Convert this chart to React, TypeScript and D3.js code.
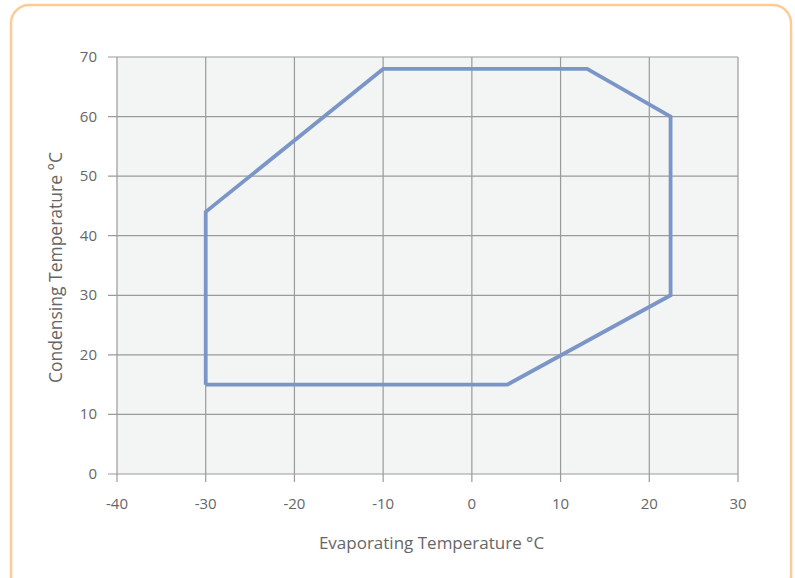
import React from "react";
import * as d3 from "d3";

const evapPoints: number[] = [-30, -30, -10, 13, 22.4, 22.4, 4, -30];
const condPoints: number[] = [15, 44, 68, 68, 60, 30, 15, 15];
const xTicks: number[] = [-40, -30, -20, -10, 0, 10, 20, 30];
const yTicks: number[] = [0, 10, 20, 30, 40, 50, 60, 70];

const W = 795;
const H = 578;
const left = 117;
const right = 738;
const top = 57;
const bottom = 474;

export default function App() {
  const x = d3.scaleLinear().domain([-40, 30]).range([left, right]);
  const y = d3.scaleLinear().domain([0, 70]).range([bottom, top]);
  const pts: [number, number][] = evapPoints.map((e, i) => [e, condPoints[i]]);
  const line = d3
    .line<[number, number]>()
    .x((d) => x(d[0]))
    .y((d) => y(d[1]));
  const font = "'Open Sans', 'Noto Sans', sans-serif";
  const grid = "#9a9a9a";
  return (
    <svg
      width={W}
      height={H}
      style={{ position: "absolute", left: 0, top: 0 }}
      fontFamily={font}
    >
      <rect x={0} y={0} width={W} height={H} fill="#fff" />
      <rect
        x={11}
        y={5}
        width={780}
        height={590}
        rx={18}
        ry={18}
        fill="#fff"
        stroke="#FDCB94"
        strokeWidth={2.5}
      />
      <rect
        x={left}
        y={top}
        width={right - left}
        height={bottom - top}
        fill="#F3F5F5"
      />
      {xTicks.map((t) => (
        <line
          key={"gx" + t}
          x1={x(t)}
          x2={x(t)}
          y1={top}
          y2={bottom + 8}
          stroke={grid}
          strokeWidth={1.2}
        />
      ))}
      {yTicks.map((t) => (
        <line
          key={"gy" + t}
          x1={left - 9}
          x2={right}
          y1={y(t)}
          y2={y(t)}
          stroke={grid}
          strokeWidth={1.2}
        />
      ))}
      <path
        d={line(pts) || ""}
        fill="none"
        stroke="#7B96C6"
        strokeWidth={3.8}
        strokeLinejoin="miter"
      />
      {xTicks.map((t) => (
        <text
          key={"tx" + t}
          x={x(t)}
          y={509}
          textAnchor="middle"
          fontSize={15}
          fill="#666"
        >
          {t}
        </text>
      ))}
      {yTicks.map((t) => (
        <text
          key={"ty" + t}
          x={97}
          y={y(t) + 5}
          textAnchor="end"
          fontSize={15}
          fill="#666"
        >
          {t}
        </text>
      ))}
      <text
        x={(left + right) / 2 + 4}
        y={549}
        textAnchor="middle"
        fontSize={17}
        fill="#666"
      >
        Evaporating Temperature °C
      </text>
      <text
        transform={`translate(62, ${(top + bottom) / 2 + 2}) rotate(-90)`}
        textAnchor="middle"
        fontSize={17.5}
        fill="#666"
      >
        Condensing Temperature °C
      </text>
    </svg>
  );
}
